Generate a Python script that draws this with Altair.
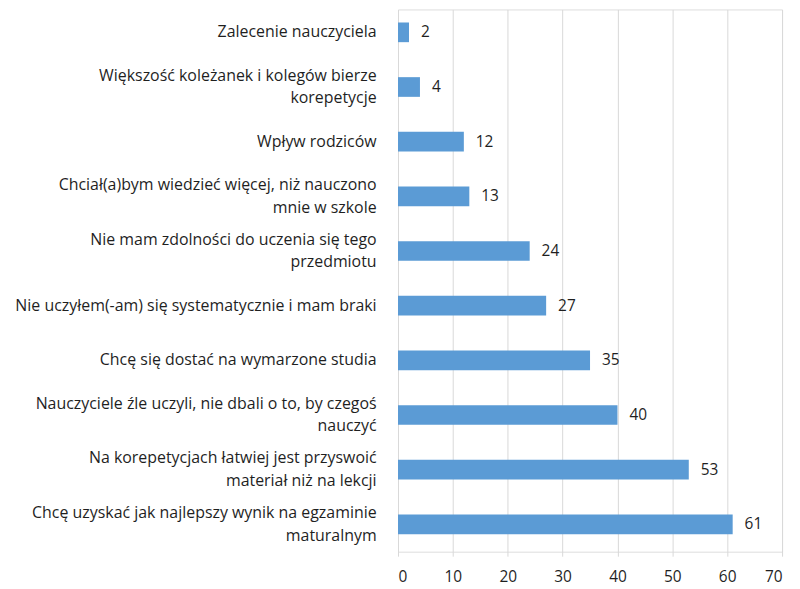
import altair as alt
import pandas as pd

categories = [
    "Zalecenie nauczyciela",
    "Większość koleżanek i kolegów bierze|korepetycje",
    "Wpływ rodziców",
    "Chciał(a)bym wiedzieć więcej, niż nauczono|mnie w szkole",
    "Nie mam zdolności do uczenia się tego|przedmiotu",
    "Nie uczyłem(-am) się systematycznie i mam braki",
    "Chcę się dostać na wymarzone studia",
    "Nauczyciele źle uczyli, nie dbali o to, by czegoś|nauczyć",
    "Na korepetycjach łatwiej jest przyswoić|materiał niż na lekcji",
    "Chcę uzyskać jak najlepszy wynik na egzaminie|maturalnym",
]
values = [2, 4, 12, 13, 24, 27, 35, 40, 53, 61]
x_ticks = [0, 10, 20, 30, 40, 50, 60, 70]

df = pd.DataFrame({"cat": categories, "val": values})

FONT = "Open Sans"
FS_CAT = 16
FS_NUM = 15.5
TXT = "#1f1f1f"

y_enc = alt.Y(
    "cat:N",
    sort=categories,
    scale=alt.Scale(paddingInner=0.64, paddingOuter=0.32, range=[-4.5, 545]),
    axis=alt.Axis(
        title=None,
        domain=False,
        ticks=False,
        grid=False,
        labelExpr="split(datum.label, '|')",
        labelLimit=0,
        labelPadding=22,
        labelFont=FONT,
        labelFontSize=FS_CAT,
        labelColor=TXT,
        labelLineHeight=23,
        labelOffset=alt.condition("indexof(datum.value, '|') >= 0", alt.value(-11.5), alt.value(0)),
    ),
)

x_enc = alt.X(
    "val:Q",
    scale=alt.Scale(domain=[0, 70], nice=False),
    axis=alt.Axis(
        title=None,
        values=x_ticks,
        domain=False,
        ticks=False,
        grid=True,
        gridColor="#D9D9D9",
        gridWidth=1,
        labelPadding=18,
        labelFont=FONT,
        labelFontSize=FS_NUM,
        labelColor=TXT,
    ),
)

bars = alt.Chart(df).mark_bar(color="#5B9BD5").encode(x=x_enc, y=y_enc)
text = alt.Chart(df).mark_text(
    align="left", baseline="middle", dx=12, font=FONT, fontSize=FS_NUM, color=TXT
).encode(x="val:Q", y=alt.Y("cat:N", sort=categories), text="val:Q")

chart = (
    alt.layer(bars, text)
    .properties(
        width=386,
        height=545,
        autosize=alt.AutoSizeParams(type="none"),
        padding={"left": 392, "top": 0, "right": 10, "bottom": 34},
    )
    .configure_view(stroke=None)
    .configure(background="white")
)

chart.save("out.html", embed_options={"renderer": "svg", "actions": False})
